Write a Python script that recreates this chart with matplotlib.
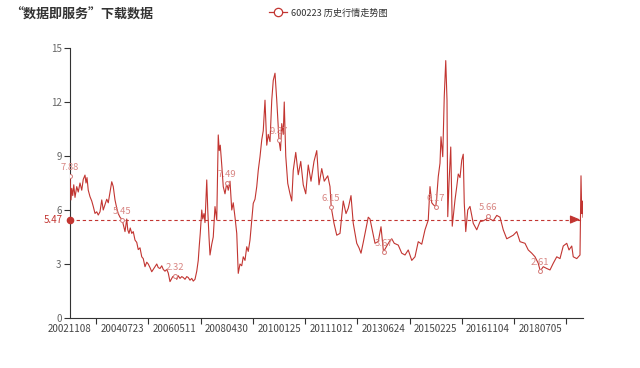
import matplotlib
matplotlib.use("Agg")
import matplotlib.pyplot as plt
from matplotlib.lines import Line2D

plt.rcParams['font.family'] = ['Noto Sans CJK SC', 'DejaVu Sans']

title = "“数据即服务”下载数据"
series_name = "600223 历史行情走势图"

# trading-day index of each traced sample and the closing price
day_idx = [
    0, 8, 14, 22, 30, 40, 54, 66, 80, 94, 106, 120, 128, 136, 146, 160, 174, 186, 200, 214,
    226, 240, 254, 266, 280, 294, 306, 320, 334, 346, 360, 374, 386, 400, 418, 426, 440, 454, 462, 472,
    482, 494, 506, 520, 534, 546, 560, 574, 586, 600, 614, 626, 640, 654, 666, 680, 694, 706, 720, 734,
    746, 760, 774, 786, 800, 814, 822, 836, 854, 866, 880, 894, 906, 920, 934, 946, 960, 974, 986, 1000,
    1014, 1026, 1034, 1042, 1054, 1062, 1072, 1080, 1094, 1102, 1112, 1120, 1134, 1146, 1160, 1174, 1186, 1194, 1202, 1214,
    1226, 1240, 1254, 1266, 1280, 1294, 1306, 1320, 1334, 1346, 1360, 1374, 1386, 1400, 1414, 1426, 1440, 1454, 1466, 1480,
    1494, 1506, 1520, 1534, 1546, 1560, 1574, 1586, 1600, 1614, 1626, 1640, 1654, 1672, 1684, 1694, 1706, 1714, 1726, 1742,
    1760, 1774, 1786, 1806, 1826, 1846, 1866, 1886, 1906, 1928, 1952, 1974, 1992, 2014, 2034, 2062, 2080, 2090, 2112, 2134,
    2160, 2186, 2208, 2226, 2248, 2266, 2294, 2312, 2328, 2346, 2360, 2386, 2400, 2418, 2440, 2466, 2488, 2508, 2534, 2560,
    2574, 2594, 2626, 2654, 2680, 2706, 2734, 2760, 2786, 2814, 2840, 2866, 2880, 2894, 2906, 2926, 2934, 2946, 2960, 2968,
    2982, 2994, 3006, 3016, 3022, 3032, 3046, 3058, 3080, 3094, 3106, 3120, 3134, 3146, 3154, 3166, 3182, 3200, 3226, 3254,
    3280, 3306, 3334, 3344, 3360, 3386, 3414, 3440, 3466, 3494, 3520, 3546, 3574, 3600, 3640, 3666, 3694, 3720, 3746, 3762,
    3786, 3814, 3840, 3866, 3894, 3920, 3946, 3974, 3992, 4014, 4026, 4054, 4080, 4088, 4094, 4098, 4104,
]
close = [
    7.88, 6.56, 7.2, 6.8, 7.4, 6.7, 7.3, 7.0, 7.5, 7.1, 7.7, 7.94, 7.5, 7.8, 7.1, 6.74, 6.5, 6.2, 5.81, 5.9,
    5.72, 5.9, 6.56, 6.0, 6.3, 6.6, 6.4, 7.0, 7.57, 7.3, 6.56, 6.1, 5.8, 5.6, 5.45, 5.2, 4.8, 5.5, 4.9, 4.7,
    5.0, 4.7, 4.8, 4.33, 4.2, 3.8, 3.9, 3.4, 3.3, 2.85, 3.1, 3.0, 2.8, 2.57, 2.7, 2.85, 3.0, 2.8, 2.75, 2.9,
    2.7, 2.6, 2.7, 2.5, 2.02, 2.2, 2.3, 2.32, 2.15, 2.35, 2.2, 2.3, 2.25, 2.15, 2.3, 2.25, 2.1, 2.2, 2.05, 2.15,
    2.6, 3.2, 4.0, 4.7, 6.0, 5.5, 5.8, 5.3, 7.67, 6.0, 4.5, 3.5, 4.1, 4.5, 6.19, 5.44, 10.17, 9.3, 9.6, 8.5,
    7.3, 6.9, 7.49, 7.1, 7.6, 6.0, 6.4, 5.6, 4.7, 2.48, 3.0, 2.9, 3.4, 3.2, 3.96, 3.7, 4.33, 5.44, 6.37, 6.6,
    7.3, 8.2, 8.96, 9.9, 10.4, 12.1, 9.6, 10.2, 9.8, 12.1, 13.2, 13.6, 12.1, 9.87, 9.3, 10.8, 10.2, 12.0, 9.0, 7.48,
    6.9, 6.5, 8.2, 9.2, 7.96, 8.7, 7.4, 6.9, 8.5, 7.6, 8.7, 9.3, 7.4, 8.3, 7.6, 7.9, 7.3, 6.15, 5.26, 4.6,
    4.7, 6.5, 5.8, 6.1, 6.8, 5.26, 4.15, 3.9, 3.6, 4.2, 4.7, 5.6, 5.5, 4.9, 4.15, 4.25, 5.07, 3.67, 4.0, 4.3,
    4.4, 4.15, 4.05, 3.6, 3.5, 3.78, 3.2, 3.4, 4.24, 4.1, 4.9, 5.44, 7.3, 6.4, 6.3, 6.17, 6.74, 7.85, 8.6, 10.07,
    8.96, 12.3, 14.3, 12.1, 5.63, 7.5, 9.5, 5.1, 6.56, 7.3, 8.0, 7.8, 8.77, 9.1, 6.4, 4.8, 6.0, 6.2, 5.26, 4.9,
    5.35, 5.4, 5.5, 5.66, 5.5, 5.4, 5.7, 5.6, 4.9, 4.4, 4.5, 4.6, 4.8, 4.24, 4.15, 3.78, 3.6, 3.4, 3.04, 2.61,
    2.85, 2.75, 2.67, 3.04, 3.4, 3.3, 4.0, 4.15, 3.78, 4.0, 3.4, 3.3, 3.5, 7.9, 5.8, 6.5, 5.6,
]

date_labels = ["20021108", "20040723", "20060511", "20080430", "20100125",
               "20111012", "20130624", "20150225", "20161104", "20180705"]
label_step = 418          # trading days between axis labels
n_days = 4105             # trading days on the axis
mark_values = [7.88, 5.45, 2.32, 7.49, 9.87, 6.15, 3.67, 6.17, 5.66, 2.61]
avg_price = 5.47

RED = "#c23531"
fig = plt.figure(figsize=(6.4, 3.68), dpi=100)
ax = fig.add_axes([70/640, 50/368, 513/640, 270/368])

ax.plot(day_idx, close, color=RED, lw=0.8, zorder=3)

label_pos = [i * label_step for i in range(len(date_labels))]
ax.scatter(label_pos, mark_values, s=8, facecolor="white", edgecolor="#d57a78",
           linewidth=0.7, zorder=4)
for x, v in zip(label_pos, mark_values):
    ax.annotate(f"{v:.2f}", (x, v), xytext=(0, 3), textcoords="offset points",
                ha="center", va="bottom", fontsize=6.8, color="#d88683", zorder=5)

# average mark line
ax.plot([0, n_days - 1], [avg_price, avg_price], color=RED, lw=0.8,
        ls=(0, (3, 2.5)), zorder=2)
ax.scatter([0], [avg_price], s=20, color=RED, zorder=6, clip_on=False)
ax.annotate("", xy=(n_days - 1, avg_price), xytext=(n_days - 80, avg_price),
            arrowprops=dict(arrowstyle="-|>,head_length=0.6,head_width=0.25",
                            color=RED, lw=0.8), zorder=6, annotation_clip=False)
ax.annotate(f"{avg_price:.2f}", (0, avg_price), xytext=(-5, 0), textcoords="offset points",
            ha="right", va="center", fontsize=7, color=RED)

ax.set_xlim(0, n_days - 1)
ax.set_ylim(0, 15)
ax.set_yticks([0, 3, 6, 9, 12, 15])
ax.tick_params(axis="y", colors="#333333", labelcolor="#666666", labelsize=7,
               length=4, width=0.8, direction="out", pad=2)

ax.set_xticks(label_pos)
ax.set_xticklabels(date_labels)
ax.set_xticks([p + label_step / 2 for p in label_pos], minor=True)
ax.tick_params(axis="x", which="major", length=0, labelsize=7, labelcolor="#444444", pad=4)
ax.tick_params(axis="x", which="minor", length=4, width=0.8, color="#333333", direction="out")

for s in ["top", "right"]:
    ax.spines[s].set_visible(False)
for s in ["left", "bottom"]:
    ax.spines[s].set_color("#333333")
    ax.spines[s].set_linewidth(0.8)

fig.text(10/640, 1 - 15/368, title, fontsize=9.4, fontweight="bold", color="#333333",
         ha="left", va="center")

handle = Line2D([], [], color=RED, lw=0.9, marker="o", markersize=6,
                markerfacecolor="white", markeredgecolor=RED, markeredgewidth=0.9)
fig.legend([handle], [series_name], loc="center", bbox_to_anchor=(328/640, 1 - 13/368),
           frameon=False, fontsize=6.6, handlelength=2.0, handletextpad=0.4,
           labelcolor="#333333")

fig.savefig("out.png", dpi=100)
